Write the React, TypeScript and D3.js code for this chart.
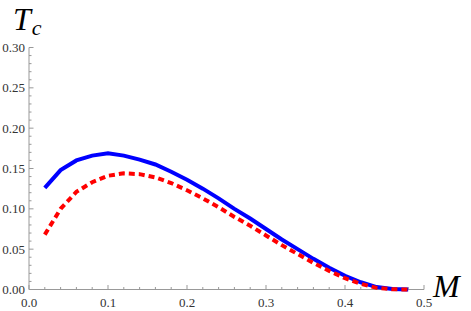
import * as d3 from "d3";

const mValues = [0.02, 0.04, 0.06, 0.08, 0.1, 0.12, 0.14, 0.16, 0.18, 0.2, 0.22, 0.24, 0.26, 0.28, 0.3, 0.32, 0.34, 0.36, 0.38, 0.4, 0.42, 0.44, 0.46, 0.48];
const tcSolid = [0.126, 0.148, 0.160, 0.166, 0.169, 0.166, 0.161, 0.155, 0.146, 0.136, 0.125, 0.113, 0.100, 0.088, 0.075, 0.062, 0.050, 0.038, 0.027, 0.017, 0.009, 0.003, 0.0005, 0];
const tcDashed = [0.068, 0.100, 0.121, 0.133, 0.141, 0.144, 0.143, 0.139, 0.132, 0.123, 0.113, 0.102, 0.090, 0.079, 0.067, 0.055, 0.044, 0.033, 0.023, 0.014, 0.007, 0.002, 0.0003, 0];
const xTicks = [0.0, 0.1, 0.2, 0.3, 0.4, 0.5];
const yTicks = [0.0, 0.05, 0.1, 0.15, 0.2, 0.25, 0.3];

const AXIS = "#999";
const textStyle = { fontFamily: "'Liberation Serif', serif" };

export default function App() {
  const x = d3.scaleLinear().domain([0, 0.5]).range([29, 424]);
  const y = d3.scaleLinear().domain([0, 0.3]).range([289.5, 47.5]);

  const line = d3.line<number>()
    .x((_, i) => x(mValues[i]))
    .y((d) => y(d));

  // minor ticks every 0.02 on x, every 0.01 on y
  const xMinor = d3.range(0, 51, 2).map((d) => d / 100);
  const yMinor = d3.range(0, 31, 1).map((d) => d / 100);
  const isMajorX = (d: number) => Math.abs(d * 10 - Math.round(d * 10)) < 1e-6;
  const isMajorY = (d: number) => Math.abs(d * 20 - Math.round(d * 20)) < 1e-6;

  return (
    <svg width={471} height={311} style={{ position: "absolute", left: 0, top: 0, background: "#fff" }}>
      {/* axes */}
      <line x1={x(0)} x2={x(0.5)} y1={y(0)} y2={y(0)} stroke={AXIS} />
      <line x1={x(0)} x2={x(0)} y1={y(0)} y2={y(0.3)} stroke={AXIS} />

      {xMinor.map((d) => (
        <line key={"xt" + d} x1={x(d)} x2={x(d)} y1={y(0)} y2={y(0) - (isMajorX(d) ? 4.5 : 2.5)} stroke={AXIS} />
      ))}
      {yMinor.map((d) => (
        <line key={"yt" + d} y1={y(d)} y2={y(d)} x1={x(0)} x2={x(0) + (isMajorY(d) ? 4.5 : 2.5)} stroke={AXIS} />
      ))}

      {xTicks.map((d) => (
        <text key={"xl" + d} x={x(d)} y={307} textAnchor="middle" style={textStyle} fontSize={13} fill="#333">
          {d3.format(".1f")(d)}
        </text>
      ))}
      {yTicks.map((d) => (
        <text key={"yl" + d} x={25} y={y(d) + 4.5} textAnchor="end" style={textStyle} fontSize={13} fill="#333">
          {d3.format(".2f")(d)}
        </text>
      ))}

      <path d={line(tcSolid) ?? ""} fill="none" stroke="#0000ff" strokeWidth={4} />
      <path d={line(tcDashed) ?? ""} fill="none" stroke="#ff0000" strokeWidth={4} strokeDasharray="6,4" />

      {/* axis labels */}
      <text x={13} y={30} style={textStyle} fontStyle="italic" fontSize={32} fill="#000">
        T<tspan dx={1} dy={5} fontSize={22}>c</tspan>
      </text>
      <text x={433} y={297} style={textStyle} fontStyle="italic" fontSize={32} fill="#000">M</text>
    </svg>
  );
}
